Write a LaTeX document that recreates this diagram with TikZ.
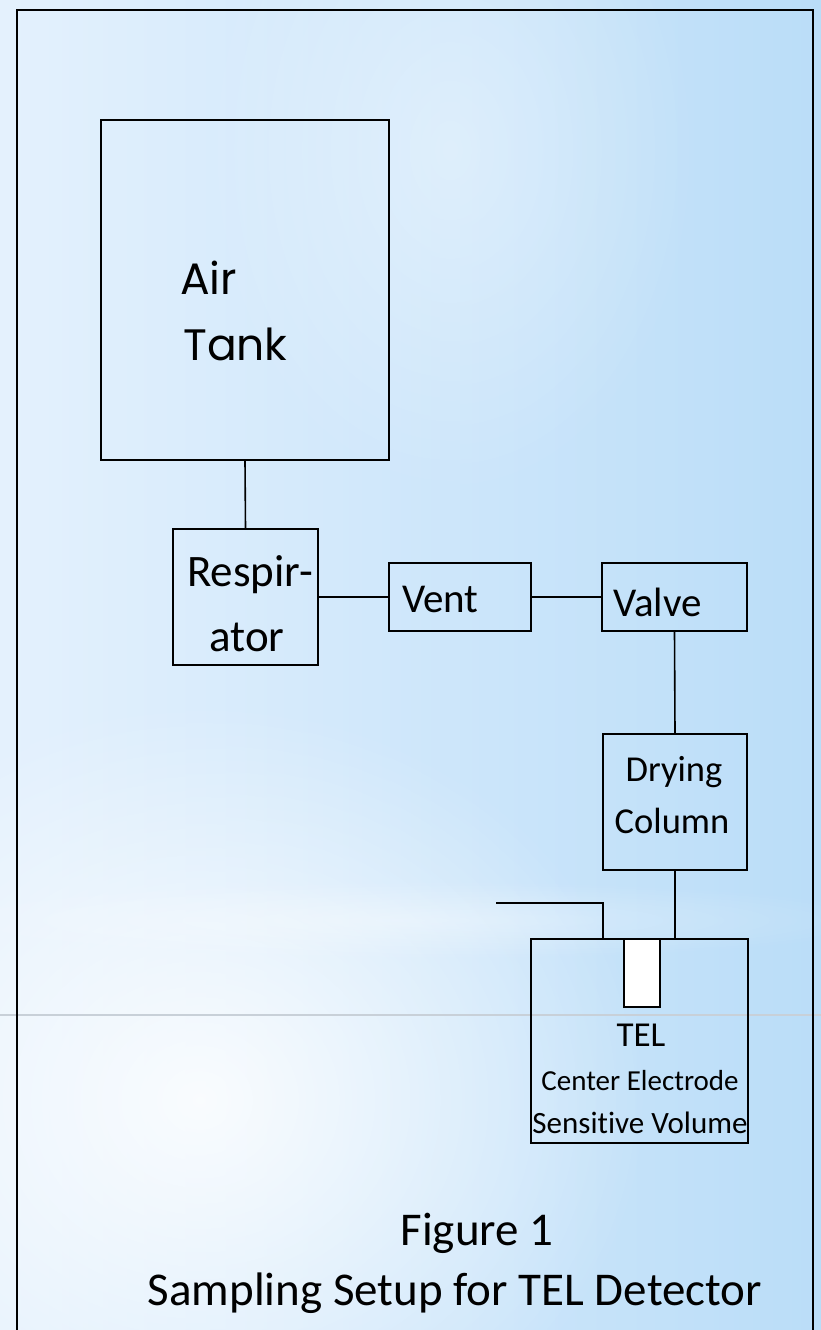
\documentclass[tikz,border=0pt]{standalone}
\usepackage{fontspec}
\setmainfont{Carlito}[Ligatures=NoCommon]
\newfontfamily\gothic{Poppins}
\usetikzlibrary{fadings}
\definecolor{bgL}{RGB}{228,241,253}
\definecolor{bgR}{RGB}{186,221,248}
\definecolor{rule}{RGB}{200,208,216}
\tikzfading[name=glow, inner color=transparent!0, outer color=transparent!100]
\tikzset{
  blk/.style={draw=black, line width=1.6pt, inner sep=0pt},
  lnk/.style={draw=black, line width=1.6pt},
  lbl/.style={inner sep=0pt, anchor=base, text=black},
}
\begin{document}
\begin{tikzpicture}[x=1pt,y=-1pt]
\useasboundingbox (0,0) rectangle (821,1330);
% background
\shade[left color=bgL, right color=bgR] (0,0) rectangle (821,1330);
\fill[white, path fading=glow, fill opacity=0.85] (-250,700) rectangle (650,1500);
\fill[white, path fading=glow, fill opacity=0.35] (200,-200) rectangle (700,500);
\fill[white, path fading=glow, fill opacity=0.35] (-100,880) rectangle (900,960);
\draw[rule, line width=1.2pt] (0,1015) -- (821,1015);
% frame
\draw[line width=2.6pt] (17,1332) -- (17,10) -- (813,10) -- (813,1332);
% boxes
\node[blk, minimum width=288, minimum height=340] (tank) at (245,290) {};
\node[blk, minimum width=145, minimum height=136] (resp) at (245.5,597) {};
\node[blk, minimum width=142, minimum height=68] (vent) at (460,597) {};
\node[blk, minimum width=145, minimum height=68] (valve) at (674.5,597) {};
\node[blk, minimum width=144, minimum height=136] (dry) at (675,802) {};
\node[blk, minimum width=217, minimum height=204] (tel) at (639.5,1041) {};
\node[blk, fill=white, minimum width=36, minimum height=68] (elec) at (642,973) {};
% connectors
\draw[lnk] (tank.south) -- (resp.north);
\draw[lnk] (resp.east) -- (vent.west);
\draw[lnk] (vent.east) -- (valve.west);
\draw[lnk] (valve.south) -- (dry.north);
\draw[lnk] (dry.south) -- (dry.south |- tel.north);
\coordinate (inlet) at (496,903);
\coordinate (bend) at (603,903);
\draw[lnk] (inlet) -- (bend) -- (bend |- tel.north);
% labels
\node[lbl, anchor=base west, font=\gothic\fontsize{44}{44}\selectfont] (tA) at (180,294) {Air};
\node[lbl, anchor=base west, font=\gothic\fontsize{44}{44}\selectfont] (tB) at (183,360) {Tank};
\node[lbl, font=\fontsize{45}{45}\selectfont] (r1) at (250,586) {Respir-};
\node[lbl, font=\fontsize{45}{45}\selectfont] (r2) at (247,651) {ator};
\node[lbl, anchor=base west, font=\fontsize{41}{41}\selectfont] (v1) at (402,612) {Vent};
\node[lbl, anchor=base west, font=\fontsize{41}{41}\selectfont] (v2) at (613,616) {Valve};
\node[lbl, font=\fontsize{36.5}{36.5}\selectfont] (d1) at (674,781) {Drying};
\node[lbl, font=\fontsize{36.5}{36.5}\selectfont] (d2) at (672,833) {Column};
\node[lbl, font=\fontsize{35}{35}\selectfont] (t1) at (641,1046) {TEL};
\node[lbl, font=\fontsize{29}{29}\selectfont] (t2) at (640,1090) {Center Electrode};
\node[lbl, font=\fontsize{31}{31}\selectfont] (t3) at (640,1133) {Sensitive Volume};
\node[lbl, font=\fontsize{47}{47}\selectfont] (f1) at (477,1245) {Figure 1};
\node[lbl, font=\fontsize{47}{47}\selectfont] (f2) at (455,1305) {Sampling Setup for TEL Detector};
\end{tikzpicture}
\end{document}
